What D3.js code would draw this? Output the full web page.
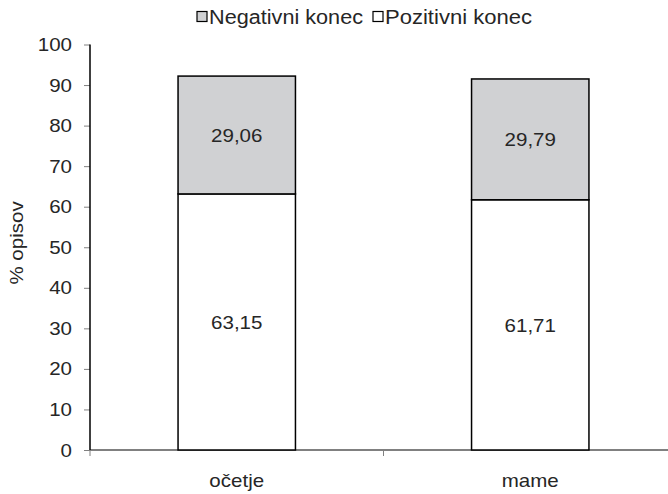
<!DOCTYPE html>
<html>
<head>
<meta charset="utf-8">
<script src="https://cdn.jsdelivr.net/npm/d3@7"></script>
<style>
  html, body { margin: 0; padding: 0; background: #fff; }
  svg text { font-family: "Liberation Sans", Arial, sans-serif; fill: #262626; }
</style>
</head>
<body>
<svg id="chart" width="668" height="494"></svg>
<script>
const categories = ["očetje", "mame"];
const positiveValues = [63.15, 61.71];
const negativeValues = [29.06, 29.79];
const positiveLabels = ["63,15", "61,71"];
const negativeLabels = ["29,06", "29,79"];
const yTicks = [0, 10, 20, 30, 40, 50, 60, 70, 80, 90, 100];
const seriesNames = ["Negativni konec", "Pozitivni konec"];

const FS = 19;
const svg = d3.select("#chart");
const y = d3.scaleLinear().domain([0, 100]).range([450, 44.5]);
const x = d3.scaleBand().domain(categories).range([90, 677]).paddingInner(0.6).paddingOuter(0.3);

// x axis line + boundary ticks
svg.append("line").attr("x1", 90).attr("x2", 677).attr("y1", y(0)).attr("y2", y(0))
  .attr("stroke", "#808080").attr("stroke-width", 2);
const bounds = [90, 90 + (677 - 90) / 2, 677];
svg.selectAll("line.xt").data(bounds).enter().append("line").attr("class", "xt")
  .attr("x1", d => d).attr("x2", d => d).attr("y1", y(0)).attr("y2", y(0) + 6)
  .attr("stroke", "#808080").attr("stroke-width", 1);

// y axis
const yAxis = d3.axisLeft(y).tickValues(yTicks).tickSize(6).tickPadding(12).tickFormat(d3.format("d"));
const gy = svg.append("g").attr("transform", "translate(90,0)").call(yAxis);
gy.select(".domain").remove();
gy.selectAll(".tick line").attr("stroke", "#808080").attr("stroke-width", 1);
gy.selectAll(".tick text").attr("font-size", FS).attr("fill", "#262626").attr("font-family", null);
svg.append("line").attr("x1", 90).attr("x2", 90).attr("y1", y(100)).attr("y2", y(0))
  .attr("stroke", "#000").attr("stroke-width", 1.5);

// bars
const bw = x.bandwidth();
svg.selectAll("rect.pos").data(categories).enter().append("rect").attr("class", "pos")
  .attr("x", d => x(d)).attr("width", bw)
  .attr("y", (d, i) => y(positiveValues[i])).attr("height", (d, i) => y(0) - y(positiveValues[i]))
  .attr("fill", "#fff").attr("stroke", "#000").attr("stroke-width", 1.5);
svg.selectAll("rect.neg").data(categories).enter().append("rect").attr("class", "neg")
  .attr("x", d => x(d)).attr("width", bw)
  .attr("y", (d, i) => y(positiveValues[i] + negativeValues[i]))
  .attr("height", (d, i) => y(positiveValues[i]) - y(positiveValues[i] + negativeValues[i]))
  .attr("fill", "#d0d1d3").attr("stroke", "#000").attr("stroke-width", 1.5);

// value labels
svg.selectAll("text.pv").data(categories).enter().append("text").attr("class", "pv stretch")
  .attr("x", d => x(d) + bw / 2).attr("y", (d, i) => y(positiveValues[i] / 2))
  .attr("dy", "0.36em").attr("text-anchor", "middle").attr("font-size", FS)
  .text((d, i) => positiveLabels[i]);
svg.selectAll("text.nv").data(categories).enter().append("text").attr("class", "nv stretch")
  .attr("x", d => x(d) + bw / 2).attr("y", (d, i) => y(positiveValues[i] + negativeValues[i] / 2))
  .attr("dy", "0.36em").attr("text-anchor", "middle").attr("font-size", FS)
  .text((d, i) => negativeLabels[i]);

// category labels
svg.selectAll("text.cat").data(categories).enter().append("text").attr("class", "cat stretch")
  .attr("x", d => x(d) + bw / 2).attr("y", 487).attr("text-anchor", "middle").attr("font-size", FS)
  .text(d => d);

// y axis title
svg.append("text").attr("class", "stretch").attr("transform", "translate(23,243) rotate(-90)")
  .attr("text-anchor", "middle").attr("font-size", FS).text("% opisov");

gy.selectAll(".tick text").classed("stretch", true);

// horizontal stretch to match reference glyph widths
svg.selectAll("text.stretch").each(function () {
  const len = this.getComputedTextLength();
  d3.select(this).attr("textLength", len * 1.08).attr("lengthAdjust", "spacingAndGlyphs");
});

// legend
const legendX = [197, 373];
const legendFill = ["#d0d1d3", "#fff"];
const legendWidth = [154, 147];
seriesNames.forEach((name, i) => {
  svg.append("rect").attr("x", legendX[i]).attr("y", 11.5).attr("width", 10).attr("height", 10)
    .attr("fill", legendFill[i]).attr("stroke", "#000").attr("stroke-width", 1.2);
  svg.append("text").attr("x", legendX[i] + 12).attr("y", 23.5).attr("font-size", 20)
    .attr("textLength", legendWidth[i]).attr("lengthAdjust", "spacingAndGlyphs").text(name);
});
</script>
</body>
</html>
